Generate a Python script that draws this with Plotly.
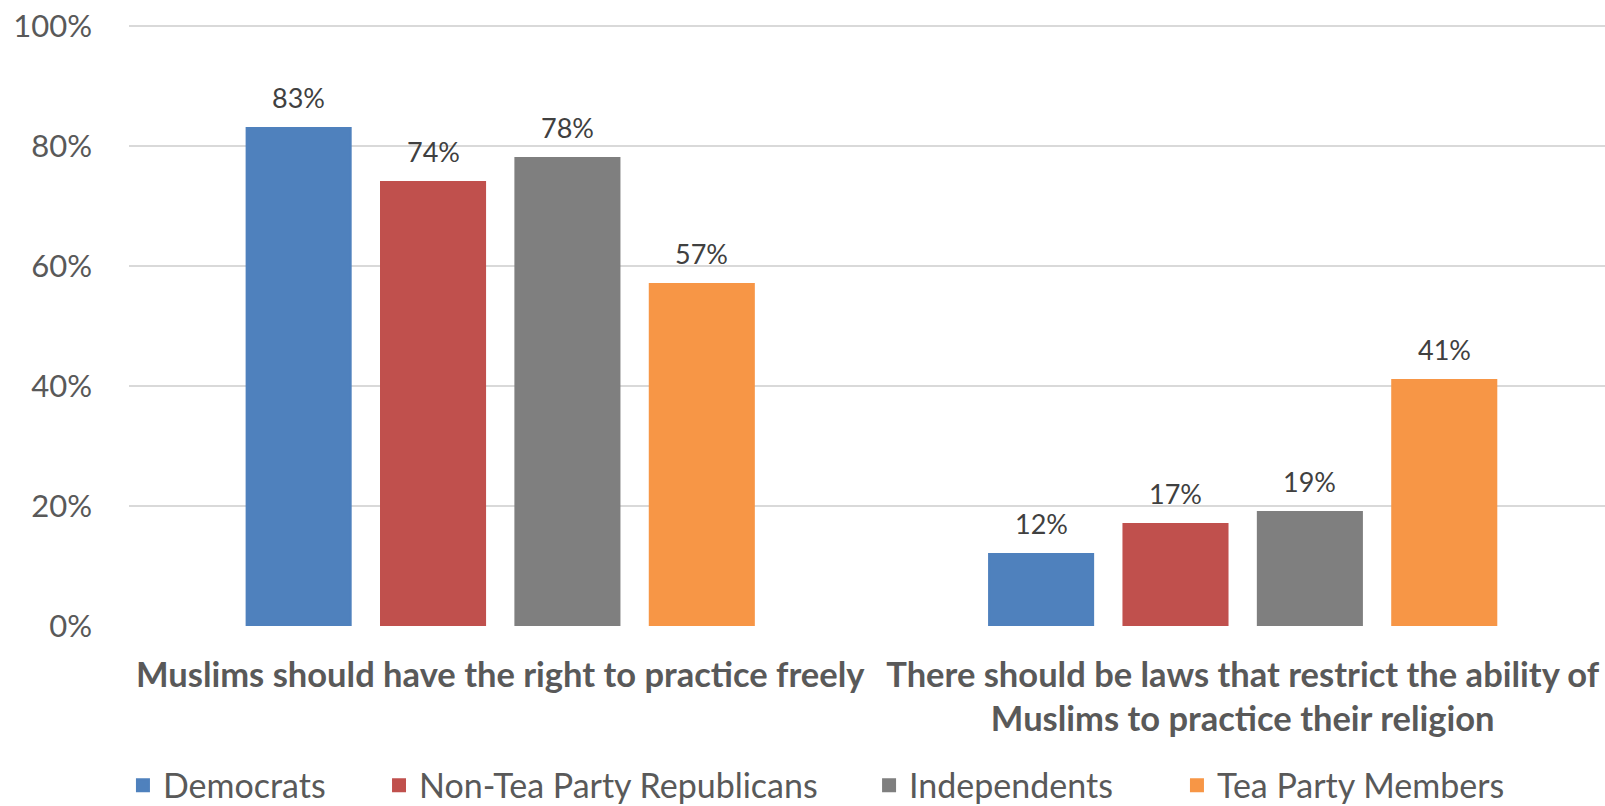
import plotly.graph_objects as go

categories = ["Muslims should have the right to practice freely",
              "There should be laws that restrict the ability of<br>Muslims to practice their religion"]
series_names = ["Democrats", "Non-Tea Party Republicans", "Independents", "Tea Party Members"]
democrats = [83, 12]
non_tea_republicans = [74, 17]
independents = [78, 19]
tea_party = [57, 41]
series_values = [democrats, non_tea_republicans, independents, tea_party]
colors = ["#4F81BD", "#C0504D", "#7F7F7F", "#F79646"]
y_ticks = [0, 20, 40, 60, 80, 100]
y_ticktext = ["0%", "20%", "40%", "60%", "80%", "100%"]
legend_x = [-0.0041, 0.1694, 0.5014, 0.71]

FONT = "Lato"
bargap = 0.276
bargroupgap = 0.2256
xpos = list(range(len(categories)))

fig = go.Figure()
for i, (name, vals, col) in enumerate(zip(series_names, series_values, colors)):
    lg = "legend" if i == 0 else f"legend{i + 1}"
    fig.add_trace(go.Bar(x=xpos, y=vals, name=name, legend=lg,
                         marker=dict(color=col, line=dict(width=2, color=col))))

# data labels through the axis scales
slot = (1 - bargap) / len(series_names)
annotations = []
for si, vals in enumerate(series_values):
    for ci, v in enumerate(vals):
        annotations.append(dict(
            x=ci + (si - (len(series_names) - 1) / 2) * slot, y=v, xref="x", yref="y",
            text=f"{v}%", showarrow=False, yanchor="bottom", yshift=12,
            font=dict(family=FONT, size=27, color="#404040")))

legends = {}
for i, lx in enumerate(legend_x):
    key = "legend" if i == 0 else f"legend{i + 1}"
    legends[key] = dict(orientation="h", x=lx, xanchor="left", y=-0.265, yanchor="middle",
                        font=dict(family=FONT, size=34, color="#595959"),
                        bgcolor="rgba(0,0,0,0)", borderwidth=0)

fig.update_layout(
    width=1605, height=806,
    margin=dict(l=129, r=0, t=24, b=180, autoexpand=False),
    paper_bgcolor="white", plot_bgcolor="white",
    barmode="group", bargap=bargap, bargroupgap=bargroupgap,
    font=dict(family=FONT, color="#595959"),
    showlegend=True,
    annotations=annotations,
    **legends,
)
fig.update_xaxes(range=[-0.5, 1.488], tickvals=xpos, ticktext=["<b>" + c + "</b>" for c in categories],
                 tickfont=dict(family=FONT, size=34.5, color="#595959"), showgrid=False,
                 showline=False, zeroline=False, ticks="", ticklabelstandoff=25, automargin=False,
                 ticklabeloverflow="allow")
fig.update_yaxes(range=[0, 100.33], tickvals=y_ticks, ticktext=y_ticktext,
                 tickfont=dict(family=FONT, size=31, color="#595959"),
                 showgrid=True, gridcolor="#D9D9D9", gridwidth=1.5, zeroline=False,
                 showline=False, ticks="", ticklabelstandoff=36, automargin=False,
                 ticklabeloverflow="allow")
# remove the default 8px page margin so the figure fills the window exactly
fig.write_html("out.html", config={"displayModeBar": False},
               post_script="document.body.style.margin='0';document.body.style.overflow='hidden';")
